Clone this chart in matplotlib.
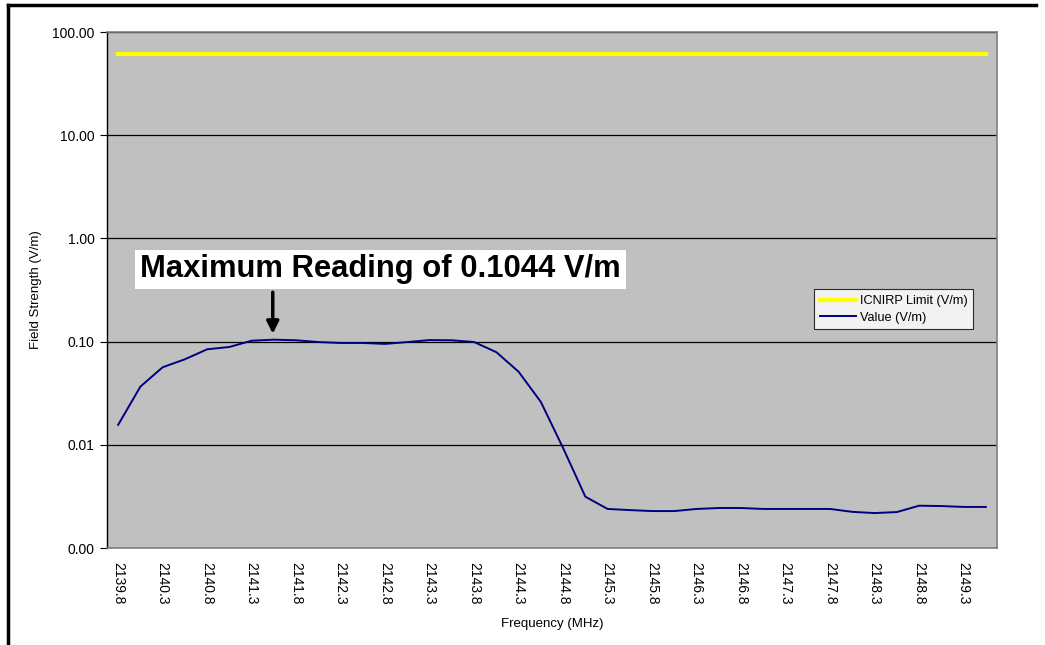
import matplotlib
matplotlib.use("Agg")
from matplotlib import pyplot as plt
from matplotlib.lines import Line2D

# frequency categories (MHz), one every 0.25 MHz
freqs = [2139.8, 2140.05, 2140.3, 2140.55, 2140.8, 2141.05, 2141.3, 2141.55,
         2141.8, 2142.05, 2142.3, 2142.55, 2142.8, 2143.05, 2143.3, 2143.55,
         2143.8, 2144.05, 2144.3, 2144.55, 2144.8, 2145.05, 2145.3, 2145.55,
         2145.8, 2146.05, 2146.3, 2146.55, 2146.8, 2147.05, 2147.3, 2147.55,
         2147.8, 2148.05, 2148.3, 2148.55, 2148.8, 2149.05, 2149.3, 2149.55]

# measured field strength (V/m)
values = [0.0156, 0.0366, 0.0564, 0.0674, 0.0842, 0.0887, 0.102, 0.1044,
          0.103, 0.099, 0.097, 0.097, 0.095, 0.099, 0.1035, 0.103,
          0.099, 0.079, 0.051, 0.026, 0.0093, 0.00314, 0.00239, 0.00233,
          0.00228, 0.00228, 0.00239, 0.00244, 0.00244, 0.00239, 0.00239, 0.00239,
          0.00239, 0.00224, 0.00218, 0.00223, 0.00257, 0.00255, 0.0025, 0.0025]

icnirp_limit = [61.0] * len(freqs)

tick_labels = ["2139.8", "2140.3", "2140.8", "2141.3", "2141.8", "2142.3",
               "2142.8", "2143.3", "2143.8", "2144.3", "2144.8", "2145.3",
               "2145.8", "2146.3", "2146.8", "2147.3", "2147.8", "2148.3",
               "2148.8", "2149.3"]

y_ticks = [0.001, 0.01, 0.1, 1, 10, 100]
y_labels = ["0.00", "0.01", "0.10", "1.00", "10.00", "100.00"]

plt.rcParams['font.family'] = ['Liberation Sans', 'DejaVu Sans']

W, H = 1045, 645
fig = plt.figure(figsize=(W / 100, H / 100), dpi=100)
fig.patch.set_facecolor("white")

# outer frame (top and left visible)
fig.add_artist(Line2D([8 / W, 1036 / W], [1 - 5 / H, 1 - 5 / H], color="black", lw=2.5))
fig.add_artist(Line2D([8 / W, 8 / W], [0, 1 - 5 / H], color="black", lw=2.5))

ax = fig.add_axes([107 / W, 1 - 548 / H, (997 - 107) / W, (548 - 32) / H])
ax.set_facecolor("#C0C0C0")

x = list(range(len(freqs)))
ax.plot(x, icnirp_limit, color="#FFFF00", lw=3, label="ICNIRP Limit (V/m)")
ax.plot(x, values, color="#000080", lw=1.4, label="Value (V/m)")

ax.set_yscale("log")
ax.set_ylim(0.001, 100)
ax.set_xlim(-0.5, len(freqs) - 0.5)
ax.set_yticks(y_ticks)
ax.set_yticklabels(y_labels, fontsize=10)
ax.minorticks_off()
ax.yaxis.grid(True, color="black", lw=0.9)
ax.set_axisbelow(True)

ax.set_xticks(x[::2])
ax.set_xticklabels(tick_labels, rotation=270, fontsize=10)
ax.tick_params(axis="x", length=0, pad=10)
ax.tick_params(axis="y", length=5, direction="out", color="black", pad=4)

for side in ["top", "right", "bottom"]:
    ax.spines[side].set_color("#808080")
    ax.spines[side].set_linewidth(1.2)
ax.spines["left"].set_color("black")
ax.spines["left"].set_linewidth(1)

ax.set_xlabel("Frequency (MHz)", fontsize=9.5, labelpad=10)
ax.set_ylabel("Field Strength (V/m)", fontsize=9.5, labelpad=7)

leg = ax.legend(loc="upper left", bbox_to_anchor=((808 - 107) / 890, (548 - 283) / 516),
                fontsize=9.2, frameon=True, fancybox=False, borderpad=0.45,
                handlelength=2.8, handletextpad=0.3, labelspacing=0.35)
leg.get_frame().set_edgecolor("black")
leg.get_frame().set_facecolor("white")
leg.get_frame().set_linewidth(0.8)

imax = values.index(max(values))
ax.annotate("", xy=(imax - 0.05, 0.112), xytext=(imax - 0.05, 0.32),
            arrowprops=dict(arrowstyle="-|>", color="black", lw=2.5, mutation_scale=18))
ax.text(1.0, 0.50, "Maximum Reading of 0.1044 V/m", fontsize=22.3,
        fontweight="bold", va="center", ha="left",
        bbox=dict(facecolor="white", edgecolor="none", pad=3.5))

fig.savefig("out.png", dpi=100)
